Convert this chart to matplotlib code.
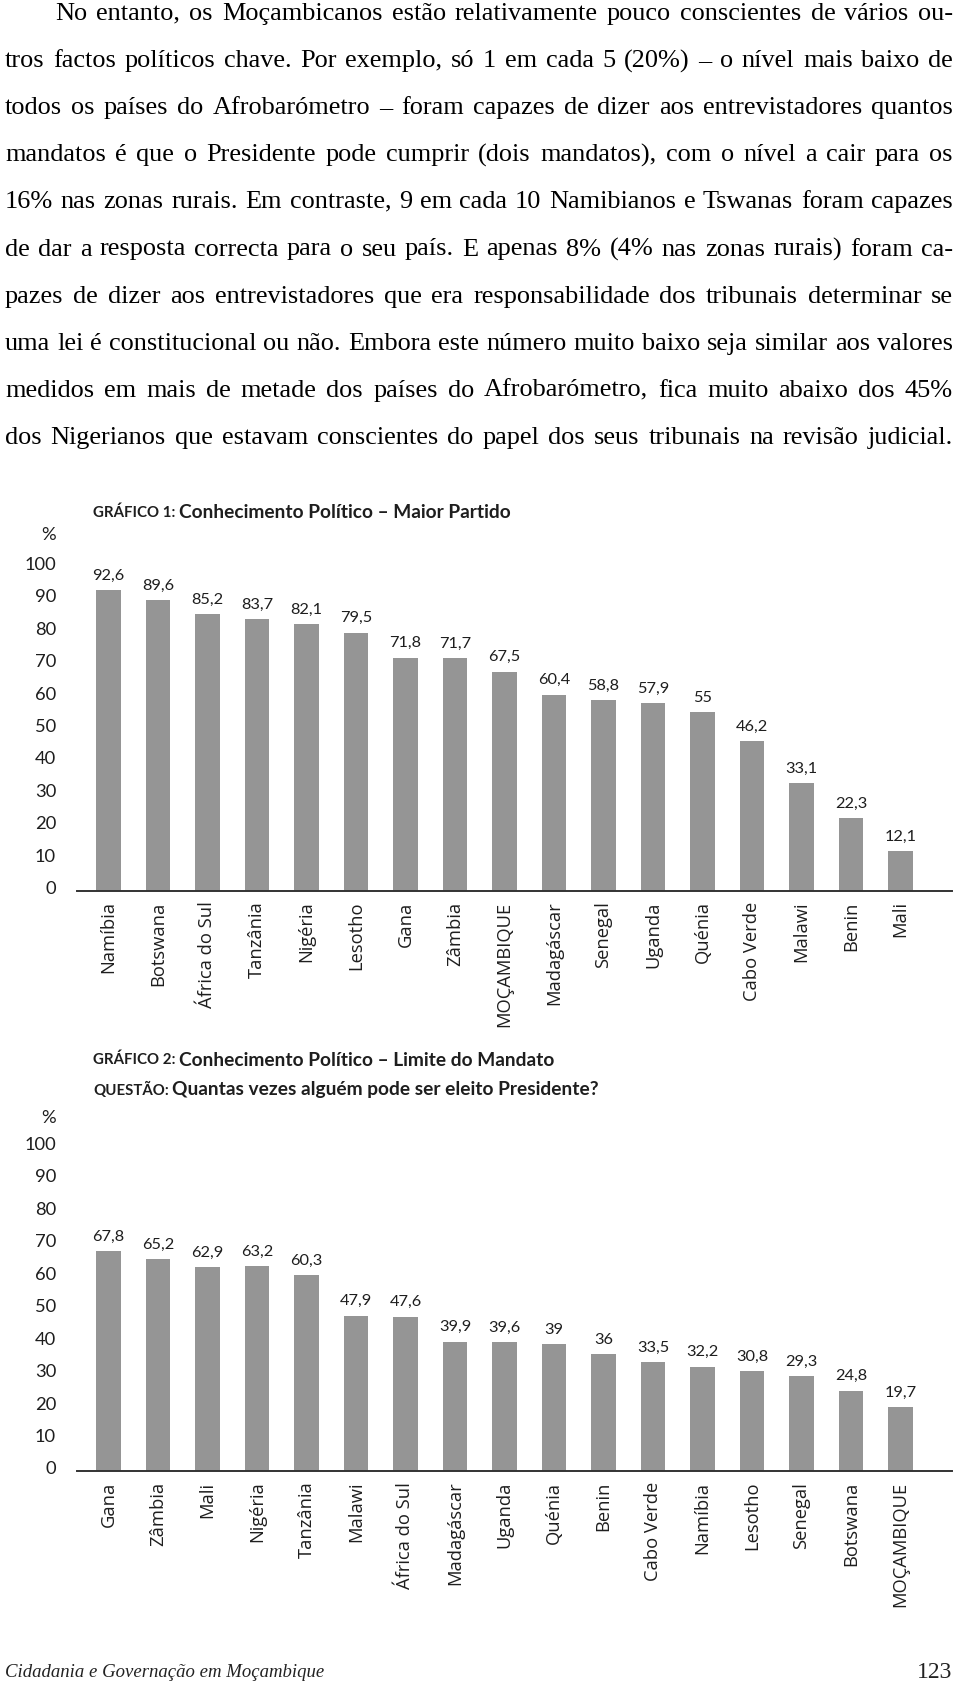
import matplotlib
matplotlib.use('Agg')
import matplotlib.pyplot as plt
from matplotlib.transforms import ScaledTranslation

W, H = 960, 1690

body_lines = [
    "No entanto, os Moçambicanos estão relativamente pouco conscientes de vários ou-",
    "tros factos políticos chave. Por exemplo, só 1 em cada 5 (20%) – o nível mais baixo de",
    "todos os países do Afrobarómetro – foram capazes de dizer aos entrevistadores quantos",
    "mandatos é que o Presidente pode cumprir (dois mandatos), com o nível a cair para os",
    "16% nas zonas rurais. Em contraste, 9 em cada 10 Namibianos e Tswanas foram capazes",
    "de dar a resposta correcta para o seu país. E apenas 8% (4% nas zonas rurais) foram ca-",
    "pazes de dizer aos entrevistadores que era responsabilidade dos tribunais determinar se",
    "uma lei é constitucional ou não. Embora este número muito baixo seja similar aos valores",
    "medidos em mais de metade dos países do Afrobarómetro, fica muito abaixo dos 45%",
    "dos Nigerianos que estavam conscientes do papel dos seus tribunais na revisão judicial.",
]

countries1 = ["Namíbia", "Botswana", "África do Sul", "Tanzânia", "Nigéria", "Lesotho",
              "Gana", "Zâmbia", "MOÇAMBIQUE", "Madagáscar", "Senegal", "Uganda",
              "Quénia", "Cabo Verde", "Malawi", "Benin", "Mali"]
values1 = [92.6, 89.6, 85.2, 83.7, 82.1, 79.5, 71.8, 71.7, 67.5, 60.4, 58.8, 57.9,
           55, 46.2, 33.1, 22.3, 12.1]

countries2 = ["Gana", "Zâmbia", "Mali", "Nigéria", "Tanzânia", "Malawi", "África do Sul",
              "Madagáscar", "Uganda", "Quénia", "Benin", "Cabo Verde", "Namíbia",
              "Lesotho", "Senegal", "Botswana", "MOÇAMBIQUE"]
values2 = [67.8, 65.2, 62.9, 63.2, 60.3, 47.9, 47.6, 39.9, 39.6, 39, 36, 33.5, 32.2,
           30.8, 29.3, 24.8, 19.7]

yticks = list(range(0, 101, 10))

SERIF = 'Liberation Serif'
SANS = 'Lato'
LABEL = 'Open Sans'
BAR = '#959595'
INK = '#1e1e1e'

fig = plt.figure(figsize=(W / 100, H / 100), dpi=100)
renderer = fig.canvas.get_renderer()


def fx(x):
    return x / W


def fy(y):
    return 1 - y / H


def width_of(s, **kw):
    t = fig.text(0, 0, s, **kw)
    w = t.get_window_extent(renderer).width
    t.remove()
    return w


# justified paragraph
left, right, indent = 5, 953, 55
avail = [right - indent] + [right - left] * (len(body_lines) - 1)
natural = [width_of(l, fontsize=18, family=SERIF) for l in body_lines]
bsize = 18 * min(a / n for a, n in zip(avail, natural)) * 0.995
for i, line in enumerate(body_lines):
    y = 20 + i * 47.1
    x0 = indent if i == 0 else left
    words = line.split(' ')
    texts = [fig.text(0, fy(y), w, fontsize=bsize, family=SERIF, color='black',
                      va='baseline', ha='left') for w in words]
    widths = [t.get_window_extent(renderer).width for t in texts]
    gap = (right - x0 - sum(widths)) / (len(words) - 1)
    x = x0
    for t, w in zip(texts, widths):
        t.set_x(fx(x))
        x += w + gap


def title(prefix, rest, x, y, target_w):
    p = width_of(prefix + ' ', fontsize=11, family=SANS, weight='bold')
    r = width_of(rest, fontsize=14, family=SANS, weight='bold')
    k = target_w / (p + r)
    fig.text(fx(x), fy(y), prefix, fontsize=11 * k, family=SANS, weight='bold',
             color=INK, va='center', ha='left')
    fig.text(fx(x + p * k), fy(y), rest, fontsize=14 * k, family=SANS, weight='bold',
             color=INK, va='center', ha='left')


def chart(baseline, names, vals, pct_y):
    unit = 3.245
    ax = fig.add_axes([fx(77), (H - baseline) / H, (952 - 77) / W, 112 * unit / H])
    n = len(names)
    ax.bar(range(n), vals, width=0.5, color=BAR, zorder=2)
    ax.set_xlim(-0.636, n - 1 + 1.04)
    ax.set_ylim(0, 112)
    for s in ('top', 'right', 'left'):
        ax.spines[s].set_visible(False)
    ax.spines['bottom'].set_color('#333333')
    ax.spines['bottom'].set_linewidth(1.4)
    ax.set_yticks(yticks, [str(t) for t in yticks], fontsize=13.2, family=SANS, color=INK)
    ax.tick_params(axis='y', length=0, pad=15)
    off = ScaledTranslation(0, 4 / 100, fig.dpi_scale_trans)
    for lab in ax.get_yticklabels():
        lab.set_transform(lab.get_transform() + off)
    ax.set_xticks(range(n), names, rotation=90, fontsize=13.2, family=LABEL, color=INK)
    ax.tick_params(axis='x', length=0, pad=7)
    ax.text(-21 / 875, pct_y, '%', transform=ax.get_yaxis_transform(), ha='right',
            va='center', fontsize=13.2, family=SANS, color=INK)
    for i, v in enumerate(vals):
        ax.annotate(f'{v:g}'.replace('.', ','), (i, v), xytext=(0, 6),
                    textcoords='offset points', ha='center', va='bottom',
                    fontsize=11.8, family=SANS, color=INK)
    return ax


title('GRÁFICO 1:', 'Conhecimento Político – Maior Partido', 93, 513, 420)
chart(891.7, countries1, values1, 110)

title('GRÁFICO 2:', 'Conhecimento Político – Limite do Mandato', 93, 1060, 464)
title('QUESTÃO:', 'Quantas vezes alguém pode ser eleito Presidente?', 93, 1090, 507)
chart(1472, countries2, values2, 109)

fig.text(fx(5), fy(1673), 'Cidadania e Governação em Moçambique', fontsize=13.5,
         family=SERIF, style='italic', color='#222222', va='center', ha='left')
fig.text(fx(952), fy(1673), '123', fontsize=17, family=SERIF, color='#222222',
         va='center', ha='right')

fig.savefig('out.png', dpi=100)
